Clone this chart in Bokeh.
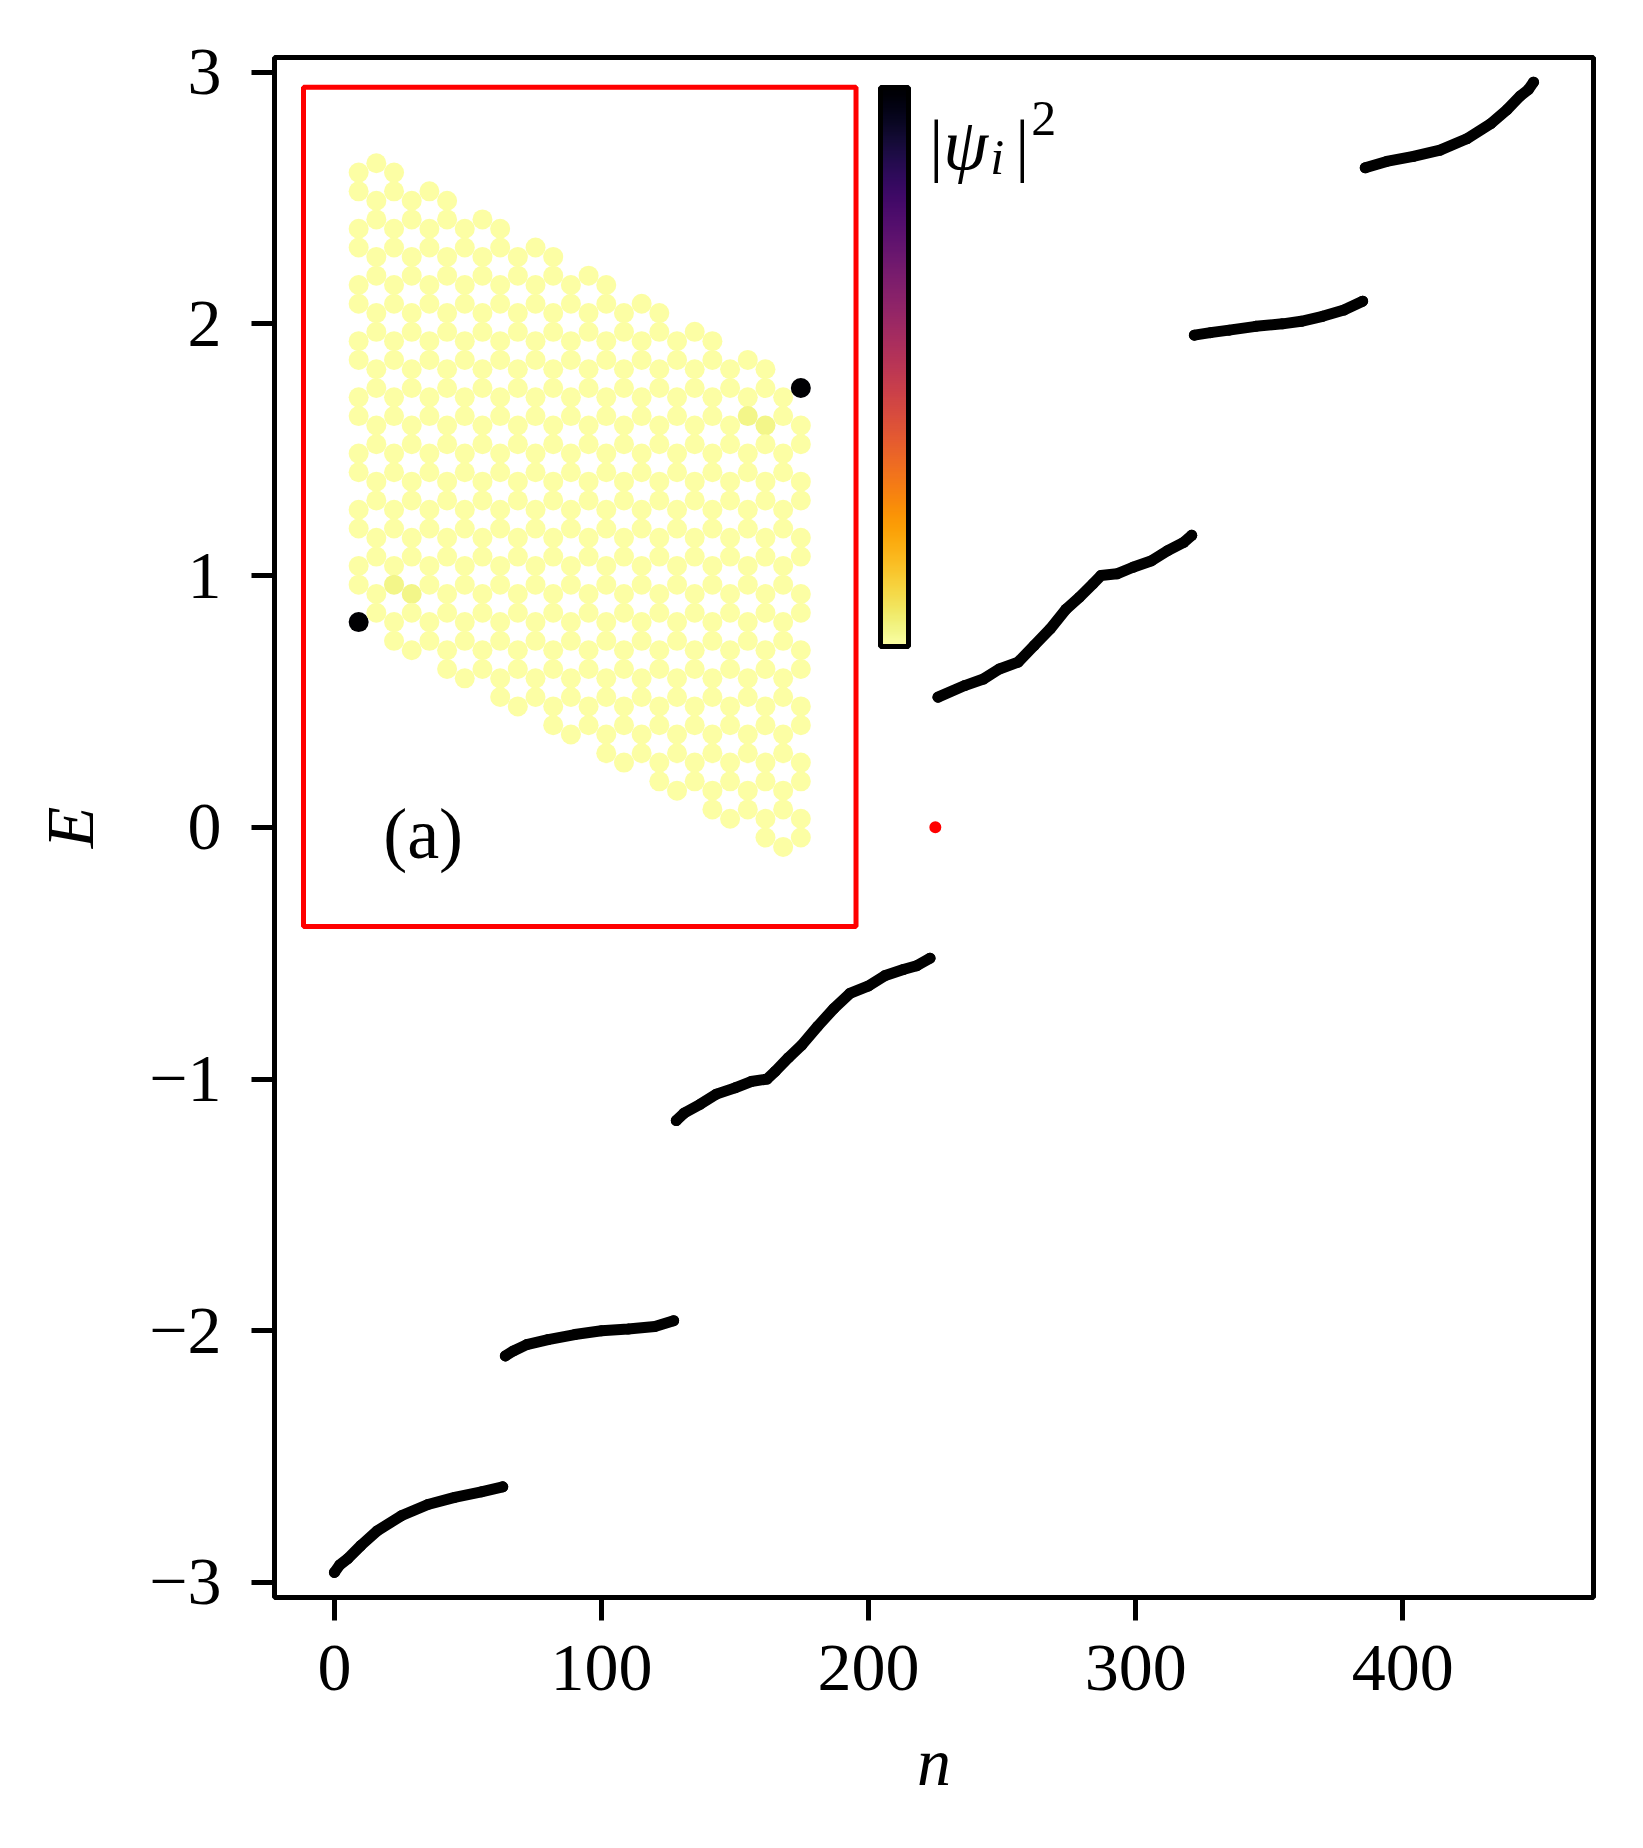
import numpy as np
from bokeh.plotting import figure
from bokeh.models import Range1d, ColorBar, LinearColorMapper, Label, FixedTicker, BoxAnnotation, ColumnDataSource
from bokeh.palettes import Inferno256
from bokeh.transform import linear_cmap
from bokeh.embed import file_html
from bokeh.resources import INLINE

# ---------------- spectrum data ----------------
band1_n = [0, 2, 5, 10, 16, 25, 35, 45, 55, 63]
band1_E = [-2.96, -2.93, -2.905, -2.852, -2.795, -2.735, -2.69, -2.662, -2.64, -2.62]

band2_n = [64, 67, 72, 80, 90, 100, 110, 120, 127]
band2_E = [-2.10, -2.08, -2.055, -2.035, -2.015, -2.0, -1.993, -1.983, -1.96]

band3_n = [128, 131, 137, 143, 150, 156, 162, 165, 170, 175, 181, 187, 193, 200, 206, 213, 218, 223]
band3_E = [-1.165, -1.135, -1.10, -1.06, -1.035, -1.01, -1.0, -0.97, -0.915, -0.865, -0.79, -0.72,
           -0.66, -0.63, -0.59, -0.565, -0.55, -0.52]

band4_n = [226, 236, 243, 249, 256, 262, 268, 274, 279, 284, 287, 293, 299, 306, 312, 318, 321]
band4_E = [0.517, 0.563, 0.589, 0.629, 0.656, 0.722, 0.788, 0.867, 0.914, 0.967, 1.0, 1.007,
           1.033, 1.059, 1.099, 1.132, 1.16]

band5_n = [322, 328, 335, 345, 355, 362, 370, 378, 385]
band5_E = [1.955, 1.965, 1.975, 1.99, 2.0, 2.01, 2.03, 2.055, 2.09]

band6_n = [386, 394, 404, 414, 424, 433, 439, 444, 447, 449]
band6_E = [2.62, 2.645, 2.665, 2.69, 2.735, 2.795, 2.85, 2.905, 2.93, 2.96]

zero_n = [225]
zero_E = [0.0]

x_ticks = [0, 100, 200, 300, 400]
y_ticks = [-3, -2, -1, 0, 1, 2, 3]

# ---------------- inset lattice (honeycomb flake, column bounds in bond units) ----------------
col_top = [0, -0.5, 0, 1.5, 1, 1.5, 3, 2.5, 3, 4.5, 4, 4.5, 6, 5.5, 6,
           7.5, 7, 7.5, 9, 8.5, 9, 10.5, 10, 10.5, 12, 11.5]
col_bottom = [24, 23.5, 25, 25.5, 25, 26.5, 27, 26.5, 28, 28.5, 28, 29.5, 30, 29.5, 31,
              31.5, 31, 32.5, 33, 32.5, 34, 34.5, 34, 35.5, 36, 35.5]
# sites with visible weight of |psi_i|^2 (column, row, value)
psi_col = [0, 25, 2, 3, 22, 23]
psi_row = [24, 11.5, 22, 22.5, 13, 13.5]
psi_val = [1.0, 1.0, 0.03, 0.03, 0.03, 0.03]

site_c, site_r, site_v = [], [], []
for c in range(len(col_top)):
    offs = (0.0, 1.0) if c % 2 == 0 else (1.5, 2.5)
    for k in range(-1, 14):
        for o in offs:
            r = 3 * k + o
            if col_top[c] <= r <= col_bottom[c]:
                v = 0.0
                for pc, pr, pv in zip(psi_col, psi_row, psi_val):
                    if pc == c and abs(pr - r) < 1e-9:
                        v = pv
                site_c.append(c)
                site_r.append(-r)
                site_v.append(v)

# ---------------- figure ----------------
XR = (-22.45, 471.45)
YR = (-3.0596, 3.058)

FONT = "Liberation Serif"
p = figure(frame_width=1319, frame_height=1540, x_range=Range1d(*XR), y_range=Range1d(*YR),
           output_backend="svg", toolbar_location=None,
           min_border_left=274, min_border_right=30, min_border_top=57, min_border_bottom=225)
p.background_fill_color = "white"
p.border_fill_color = "white"
p.outline_line_color = "black"
p.outline_line_width = 5
p.grid.visible = False

for ax in (p.xaxis[0], p.yaxis[0]):
    ax.axis_line_color = None
    ax.major_tick_line_width = 5
    ax.major_tick_out = 23
    ax.major_tick_in = 0
    ax.minor_tick_line_color = None
    ax.major_label_text_font = FONT
    ax.major_label_text_font_size = "68px"
    ax.major_label_text_color = "black"
    ax.axis_label_text_font = FONT
    ax.axis_label_text_font_size = "68px"
    ax.axis_label_text_font_style = "italic"
    ax.axis_label_text_color = "black"

p.xaxis.ticker = FixedTicker(ticks=x_ticks)
p.yaxis.ticker = FixedTicker(ticks=y_ticks)
p.yaxis.major_label_overrides = {t: (str(t) if t >= 0 else "\u2212" + str(-t)) for t in y_ticks}
p.xaxis.axis_label = "n"
p.yaxis.axis_label = "E"
p.xaxis.major_label_standoff = 25
p.yaxis.major_label_standoff = 30
p.xaxis.axis_label_standoff = 31
p.yaxis.axis_label_standoff = 38

# spectrum
for bn, bE in [(band1_n, band1_E), (band2_n, band2_E), (band3_n, band3_E),
               (band4_n, band4_E), (band5_n, band5_E), (band6_n, band6_E)]:
    p.line(bn, bE, line_color="black", line_width=11, line_cap="round", line_join="round")
    p.scatter(bn, bE, size=11, fill_color="black", line_color=None)
p.scatter(zero_n, zero_E, size=12, fill_color="red", line_color=None)

# inset frame (in main data coords) and inset coordinate system
box_l, box_r, box_b, box_t = -11.6, 195.3, -0.394, 2.940
ix0, ix1 = -3.12, 28.12
iy0, iy1 = -40.25, 4.56

def lin(v, a0, a1, b0, b1):
    return b0 + (v - a0) * (b1 - b0) / (a1 - a0)

p.extra_x_ranges = {"ix": Range1d(lin(XR[0], box_l, box_r, ix0, ix1), lin(XR[1], box_l, box_r, ix0, ix1))}
p.extra_y_ranges = {"iy": Range1d(lin(YR[0], box_b, box_t, iy0, iy1), lin(YR[1], box_b, box_t, iy0, iy1))}

p.add_layout(BoxAnnotation(left=box_l, right=box_r, bottom=box_b, top=box_t,
                           fill_color=None, fill_alpha=0, line_color="#ff0000",
                           line_alpha=1.0, line_width=5))

pal = tuple(Inferno256[::-1])
src = ColumnDataSource(dict(c=site_c, r=site_r, v=site_v))
p.scatter("c", "r", source=src, size=20, x_range_name="ix", y_range_name="iy",
          fill_color=linear_cmap("v", pal, 0, 1), line_color=None)

# colour bar
cmap = LinearColorMapper(palette=pal, low=0, high=1)
cb = ColorBar(color_mapper=cmap, width=28, height=559, location=(606, 951),
              padding=0, margin=0, ticker=FixedTicker(ticks=[]),
              major_label_text_font_size="0px", major_tick_line_color=None,
              bar_line_color="black", bar_line_width=5,
              background_fill_alpha=0, border_line_color=None)
p.add_layout(cb, "center")

def nx(px):
    return (px - 334.3) / 2.6706

def ey(py):
    return 3 - (py - 73.3) / 251.67

lab_kw = dict(text_font=FONT, text_color="black", text_baseline="alphabetic", text_align="left")
p.add_layout(Label(x=nx(929), y=ey(146), text="|", text_font_size="70px", **lab_kw))
p.add_layout(Label(x=nx(943), y=ey(146), text="\u03c8", text_font_size="72px", text_font_style="italic", **lab_kw))
p.add_layout(Label(x=nx(990), y=ey(158), text="i", text_font_size="50px", text_font_style="italic", **lab_kw))
p.add_layout(Label(x=nx(1015), y=ey(146), text="|", text_font_size="70px", **lab_kw))
p.add_layout(Label(x=nx(1031), y=ey(120), text="2", text_font_size="50px", **lab_kw))

p.add_layout(Label(x=nx(383), y=ey(835), text="(a)", text_font=FONT, text_font_size="72px",
                   text_color="black", text_baseline="middle", text_align="left"))

open("out.html", "w").write(file_html(p, INLINE))
